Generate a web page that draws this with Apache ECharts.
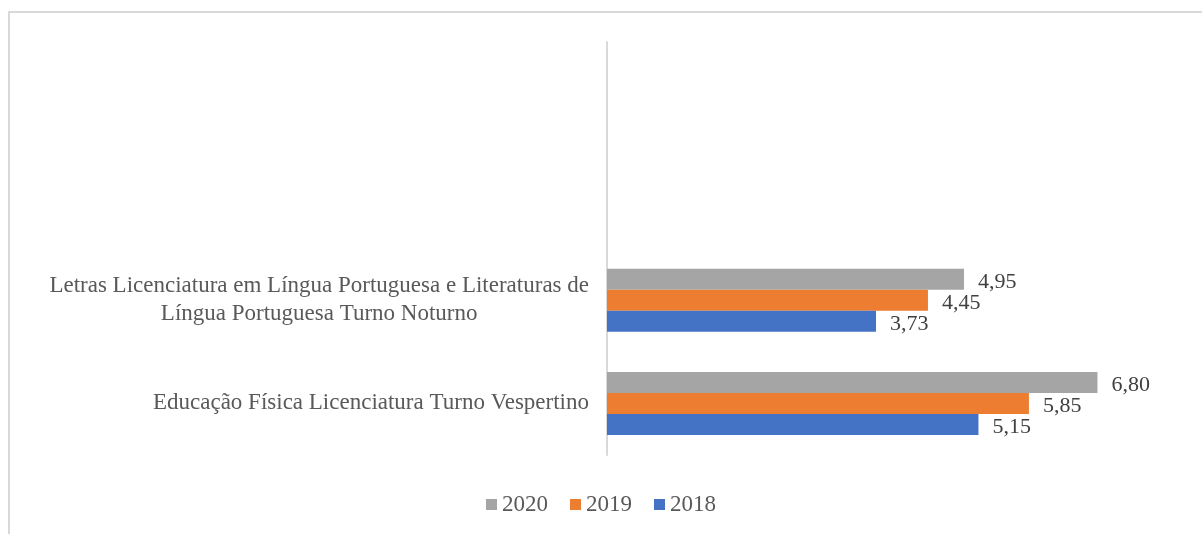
<!DOCTYPE html>
<html>
<head>
<meta charset="utf-8">
<script src="https://cdn.jsdelivr.net/npm/echarts@6/dist/echarts.min.js"></script>
<style>
  html, body { margin: 0; padding: 0; background: #fff; }
  #chart { width: 1202px; height: 534px; }
  #frame { position: absolute; left: 8px; top: 11px; right: -4px; bottom: -4px; border: 2px solid #d9d9d9; pointer-events: none; }
</style>
</head>
<body>
<div id="chart"></div>
<div id="frame"></div>
<script>
// categories bottom -> top (two empty slots on top, as in the original)
const categories = [
  "Educação Física Licenciatura Turno Vespertino",
  "Letras Licenciatura em Língua Portuguesa e Literaturas de\nLíngua Portuguesa Turno Noturno",
  "",
  ""
];
// series order top -> bottom inside each group
const years = ["2020", "2019", "2018"];
const v2020 = [6.80, 4.95, null, null];
const v2019 = [5.85, 4.45, null, null];
const v2018 = [5.15, 3.73, null, null];

const colors = { "2018": "#4472C4", "2019": "#ED7D31", "2020": "#A5A5A5" };
const values = { "2018": v2018, "2019": v2019, "2020": v2020 };
const txt = "#595959";
const serif = "'Liberation Serif', 'Times New Roman', serif";

const chart = echarts.init(document.getElementById("chart"), null, { renderer: "canvas" });

chart.setOption({
  animation: false,
  legend: {
    data: years,
    left: "center", top: 488,
    icon: "rect", itemWidth: 11, itemHeight: 11, itemGap: 22,
    textStyle: { color: txt, fontSize: 23, fontFamily: serif }
  },
  grid: { left: 607, top: 42, width: 577, height: 413 },
  xAxis: {
    type: "value", min: 0, max: 8, show: false
  },
  yAxis: {
    type: "category", data: categories,
    axisLine: { lineStyle: { color: "#d9d9d9", width: 2 } },
    axisTick: { show: false },
    axisLabel: {
      margin: 18,
      formatter: v => v.split("\n").map(l => "{c|" + l + "}").join("\n"),
      rich: { c: { align: "center", color: txt, fontSize: 23, lineHeight: 28, fontFamily: serif } }
    }
  },
  series: years.map(y => ({
    name: y, type: "bar", barWidth: 21, barGap: "0%",
    itemStyle: { color: colors[y] },
    label: {
      show: true, position: "right", distance: 14, offset: [0, 3],
      color: "#404040", fontSize: 22, fontFamily: serif,
      formatter: p => p.value == null ? "" : p.value.toFixed(2).replace(".", ",")
    },
    data: values[y]
  }))
});
</script>
</body>
</html>
